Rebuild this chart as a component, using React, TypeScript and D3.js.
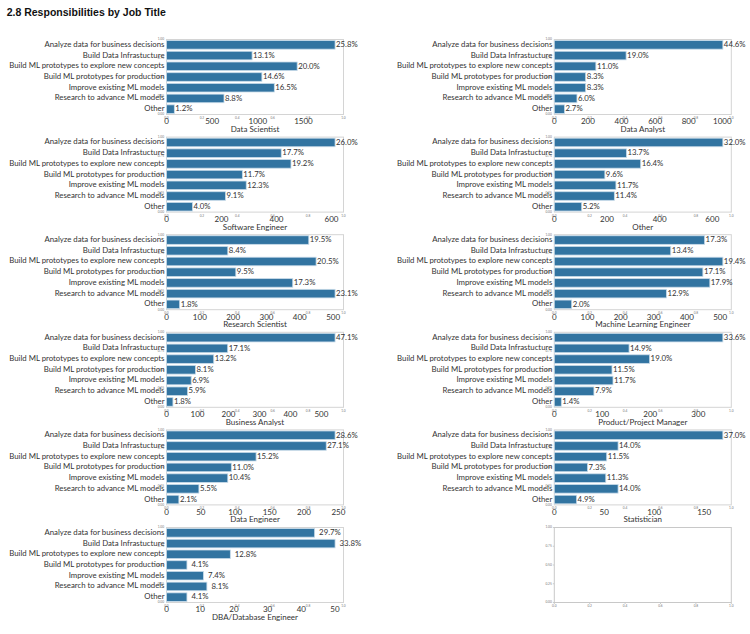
import * as d3 from 'd3'

// categories on the y axis (same for every panel)
const categories = [
  'Analyze data for business decisions',
  'Build Data Infrastucture',
  'Build ML prototypes to explore new concepts',
  'Build ML prototypes for production',
  'Improve existing ML models',
  'Research to advance ML models',
  'Other'
]

// panels, in reading order (left, right, left, right ...)
const jobTitles = [
  'Data Scientist', 'Data Analyst',
  'Software Engineer', 'Other',
  'Research Scientist', 'Machine Learning Engineer',
  'Business Analyst', 'Product/Project Manager',
  'Data Engineer', 'Statistician',
  'DBA/Database Engineer'
]

// share of answers per category (%), as labelled on the bars
const dataScientist = [25.8, 13.1, 20.0, 14.6, 16.5, 8.8, 1.2]
const dataAnalyst = [44.6, 19.0, 11.0, 8.3, 8.3, 6.0, 2.7]
const softwareEngineer = [26.0, 17.7, 19.2, 11.7, 12.3, 9.1, 4.0]
const otherTitle = [32.0, 13.7, 16.4, 9.6, 11.7, 11.4, 5.2]
const researchScientist = [19.5, 8.4, 20.5, 9.5, 17.3, 23.1, 1.8]
const mlEngineer = [17.3, 13.4, 19.4, 17.1, 17.9, 12.9, 2.0]
const businessAnalyst = [47.1, 17.1, 13.2, 8.1, 6.9, 5.9, 1.8]
const productManager = [33.6, 14.9, 19.0, 11.5, 11.7, 7.9, 1.4]
const dataEngineer = [28.6, 27.1, 15.2, 11.0, 10.4, 5.5, 2.1]
const statistician = [37.0, 14.0, 11.5, 7.3, 11.3, 14.0, 4.9]
const dbaEngineer = [29.7, 33.8, 12.8, 4.1, 7.4, 8.1, 4.1]

const percents = [
  dataScientist, dataAnalyst, softwareEngineer, otherTitle, researchScientist,
  mlEngineer, businessAnalyst, productManager, dataEngineer, statistician, dbaEngineer
]

// total answers per job title (estimated from the count axis)
const totals = [7155, 2250, 2358, 2000, 2190, 2620, 1155, 1045, 857, 456, 148]

// count axis ticks per panel
const countTicks = [
  [0, 500, 1000, 1500],
  [0, 200, 400, 600, 800, 1000],
  [0, 200, 400, 600],
  [0, 200, 400, 600],
  [0, 100, 200, 300, 400, 500],
  [0, 100, 200, 300, 400, 500],
  [0, 100, 200, 300, 400, 500],
  [0, 100, 200, 300],
  [0, 50, 100, 150, 200, 250],
  [0, 50, 100, 150],
  [0, 10, 20, 30, 40, 50]
]

// ticks of the background 0..1 axes
const unitYTicks = [0, 0.25, 0.5, 0.75, 1]
const unitXTicks = [0, 0.2, 0.4, 0.6, 0.8, 1]

const BAR = '#3274a1'
const SPINE = '#d4d4d4'
const FONT = 'Lato, "Open Sans", sans-serif'

const colX = [166.5, 554.3]
const rowY0 = 39.5
const rowStep = 97.6
const panelW = 177
const panelH = 75

function UnitAxes({ x0, y0, ticks }: { x0: number; y0: number; ticks?: boolean }) {
  const ys = d3.scaleLinear().domain([0, 1]).range([y0 + panelH, y0])
  const xs = d3.scaleLinear().domain([0, 1]).range([x0, x0 + panelW])
  return (
    <g fill="#777" fontFamily={FONT} fontSize={3.2}>
      {unitYTicks.map(t => (
        <g key={'y' + t}>
          {ticks && <line x1={x0 - 1.5} x2={x0} y1={ys(t)} y2={ys(t)} stroke="#999" strokeWidth={0.5} />}
          <text x={x0 - 2.5} y={ys(t)} textAnchor="end" dominantBaseline="middle">{t.toFixed(2)}</text>
        </g>
      ))}
      {unitXTicks.map(t => (
        <g key={'x' + t}>
          {ticks && <line x1={xs(t)} x2={xs(t)} y1={y0 + panelH} y2={y0 + panelH + 1.5} stroke="#999" strokeWidth={0.5} />}
          <text x={xs(t)} y={y0 + panelH + 4.5} textAnchor="middle">{t.toFixed(1)}</text>
        </g>
      ))}
    </g>
  )
}

function Panel({ idx }: { idx: number }) {
  const x0 = colX[idx % 2]
  const y0 = rowY0 + Math.floor(idx / 2) * rowStep
  const counts = percents[idx].map(p => (p / 100) * totals[idx])
  const maxCount = d3.max(counts) || 1
  const x = d3.scaleLinear().domain([0, maxCount * 1.05]).range([x0, x0 + panelW])
  const y = d3.scaleBand<string>().domain(categories).range([y0, y0 + panelH])
    .paddingInner(0.2).paddingOuter(0.1)
  const gap = jobTitles[idx] === 'DBA/Database Engineer' ? 4.5 : 1

  return (
    <g>
      <UnitAxes x0={x0} y0={y0} />
      <rect x={x0} y={y0} width={panelW} height={panelH} fill="none" stroke={SPINE} strokeWidth={1} />
      {categories.map((c, i) => (
        <g key={c}>
          <rect
            x={x(0)}
            y={y(c)!}
            width={x(counts[i]) - x(0)}
            height={y.bandwidth()}
            fill={BAR}
            stroke="#c8dbe9"
            strokeWidth={0.8}
          />
          <text
            x={x(counts[i]) + gap}
            y={y(c)! + y.bandwidth() / 2 + 0.3}
            dominantBaseline="middle"
            fontFamily={FONT}
            fontSize={7.8}
            fill="#333"
          >
            {percents[idx][i].toFixed(1)}%
          </text>
          <text
            x={x0 - 2}
            y={y(c)! + y.bandwidth() / 2}
            textAnchor="end"
            dominantBaseline="middle"
            fontFamily={FONT}
            fontSize={7.8}
            fill="#333"
          >
            {c}
          </text>
        </g>
      ))}
      {countTicks[idx].map(t => (
        <text
          key={t}
          x={x(t)}
          y={y0 + panelH + 9.8}
          textAnchor="middle"
          fontFamily={FONT}
          fontSize={8}
          fill="#333"
        >
          {t}
        </text>
      ))}
      <text
        x={x0 + panelW / 2}
        y={y0 + panelH + 17.5}
        textAnchor="middle"
        fontFamily={FONT}
        fontSize={8}
        fill="#333"
      >
        {jobTitles[idx]}
      </text>
    </g>
  )
}

export default function App() {
  const emptyX = colX[1]
  const emptyY = rowY0 + 5 * rowStep
  return (
    <svg
      width={750}
      height={634}
      style={{ position: 'absolute', left: 0, top: 0, background: '#fff' }}
    >
      <text x={6.7} y={15.8} fontFamily='"Liberation Sans", Arial, sans-serif' fontWeight="bold" fontSize={10.5} fill="#111">
        2.8 Responsibilities by Job Title
      </text>
      {jobTitles.map((_, i) => <Panel key={i} idx={i} />)}
      <UnitAxes x0={emptyX} y0={emptyY} ticks />
      <rect x={emptyX} y={emptyY} width={panelW} height={panelH} fill="none" stroke="#c8c8c8" strokeWidth={1} />
    </svg>
  )
}
